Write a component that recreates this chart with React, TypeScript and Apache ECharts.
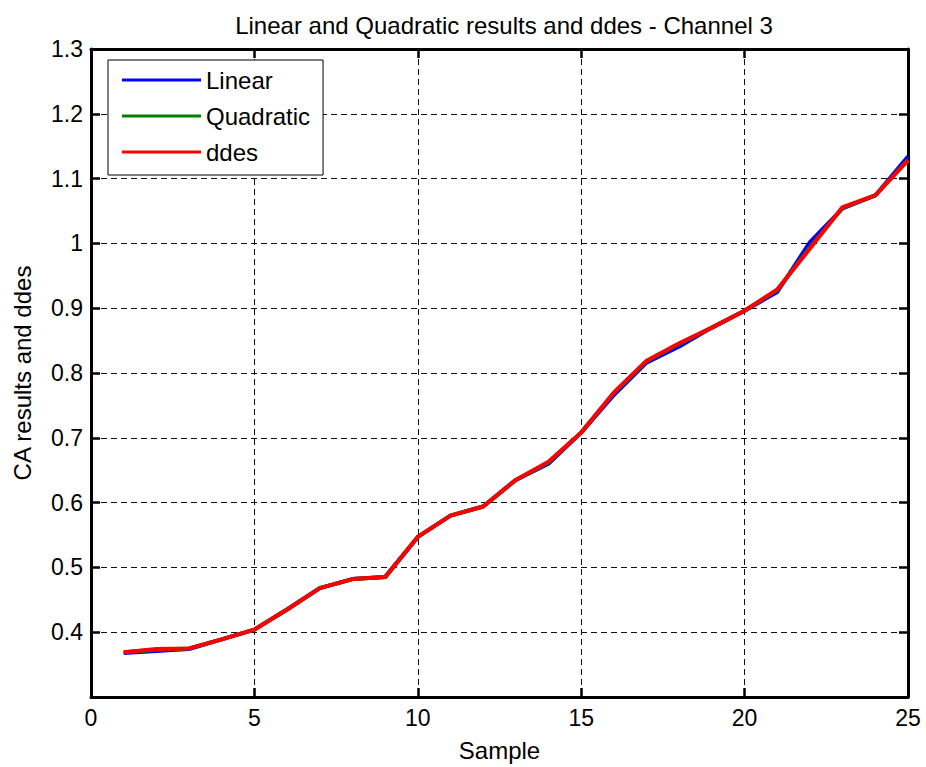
import React, { useEffect, useRef } from "react";
import * as echarts from "echarts";

const samples = [1, 2, 3, 4, 5, 6, 7, 8, 9, 10, 11, 12, 13, 14, 15, 16, 17, 18, 19, 20, 21, 22, 23, 24, 25];
const linear = [0.368, 0.371, 0.374, 0.389, 0.404, 0.435, 0.468, 0.482, 0.485, 0.547, 0.580, 0.594, 0.635, 0.660, 0.708, 0.766, 0.816, 0.841, 0.870, 0.896, 0.925, 1.002, 1.054, 1.074, 1.134];
const quadratic = [0.369, 0.373, 0.375, 0.389, 0.404, 0.435, 0.468, 0.482, 0.485, 0.547, 0.580, 0.594, 0.635, 0.662, 0.708, 0.769, 0.818, 0.845, 0.870, 0.896, 0.928, 0.994, 1.055, 1.074, 1.129];
const ddes = [0.369, 0.374, 0.375, 0.389, 0.404, 0.435, 0.468, 0.482, 0.485, 0.547, 0.580, 0.594, 0.635, 0.663, 0.708, 0.770, 0.819, 0.846, 0.870, 0.896, 0.929, 0.992, 1.056, 1.074, 1.128];
const seriesNames = ["Linear", "Quadratic", "ddes"];
const seriesColors = ["#0000ff", "#008000", "#ff0000"];

const FONT = "'Liberation Sans', Arial, Helvetica, sans-serif";

export default function App() {
  const ref = useRef<HTMLDivElement>(null);
  useEffect(() => {
    if (!ref.current) return;
    const chart = echarts.init(ref.current, null, { renderer: "svg" });
    const pairs = (vals: number[]) => samples.map((s, i) => [s, vals[i]]);
    const allData = [linear, quadratic, ddes];
    const axisLine = { onZero: false, lineStyle: { color: "#000", width: 3 } };
    const axisTick = { inside: true, length: 9, lineStyle: { color: "#000", width: 2.5 } };
    const split = { show: true, lineStyle: { type: [6, 4], color: "#111", width: 1 } };
    const labelStyle = { fontSize: 23, color: "#000", fontFamily: FONT };
    chart.setOption({
      animation: false,
      backgroundColor: "#fff",
      textStyle: { fontFamily: FONT },
      title: {
        text: "Linear and Quadratic results and ddes - Channel 3",
        left: 499,
        textAlign: "center",
        top: 8,
        textStyle: { fontSize: 24, fontWeight: "normal", color: "#000", fontFamily: FONT },
      },
      grid: { left: 91, right: 18, top: 49, bottom: 70, containLabel: false },
      legend: {
        orient: "vertical",
        left: 108,
        top: 60,
        data: seriesNames,
        icon: "rect",
        itemWidth: 79,
        itemHeight: 3,
        itemGap: 12,
        padding: [8, 13, 11, 14],
        backgroundColor: "#fff",
        borderColor: "#000",
        borderWidth: 1,
        borderRadius: 0,
        textStyle: { fontSize: 24, color: "#000", fontFamily: FONT, lineHeight: 24 },
      },
      xAxis: [
        {
          type: "value",
          min: 0,
          max: 25,
          interval: 5,
          position: "bottom",
          axisLine,
          axisTick,
          splitLine: split,
          axisLabel: { ...labelStyle, margin: 9 },
          name: "Sample",
          nameLocation: "middle",
          nameGap: 41,
          nameTextStyle: { fontSize: 24, color: "#000", fontFamily: FONT },
        },
        {
          type: "value",
          min: 0,
          max: 25,
          interval: 5,
          position: "top",
          axisLine,
          axisTick,
          splitLine: { show: false },
          axisLabel: { show: false },
        },
      ],
      yAxis: [
        {
          type: "value",
          min: 0.3,
          max: 1.3,
          interval: 0.1,
          position: "left",
          axisLine,
          axisTick,
          splitLine: split,
          axisLabel: {
            ...labelStyle,
            margin: 8,
            formatter: (v: number) => {
              const r = Math.round(v * 10) / 10;
              if (Math.abs(r - 0.3) < 1e-9) return "";
              if (Math.abs(r - 1) < 1e-9) return "1";
              return r.toFixed(1);
            },
          },
          name: "CA results and ddes",
          nameLocation: "middle",
          nameGap: 57,
          nameTextStyle: { fontSize: 24, color: "#000", fontFamily: FONT },
        },
        {
          type: "value",
          min: 0.3,
          max: 1.3,
          interval: 0.1,
          position: "right",
          axisLine,
          axisTick,
          splitLine: { show: false },
          axisLabel: { show: false },
        },
      ],
      series: seriesNames.map((name, i) => ({
        name,
        type: "line",
        xAxisIndex: 0,
        yAxisIndex: 0,
        data: pairs(allData[i]),
        showSymbol: false,
        symbol: "none",
        color: seriesColors[i],
        lineStyle: { color: seriesColors[i], width: 4 },
        z: 3 + i,
      })),
    });
    return () => chart.dispose();
  }, []);
  return (
    <div
      ref={ref}
      style={{ position: "fixed", left: 0, top: 0, width: 926, height: 767, background: "#fff" }}
    />
  );
}
